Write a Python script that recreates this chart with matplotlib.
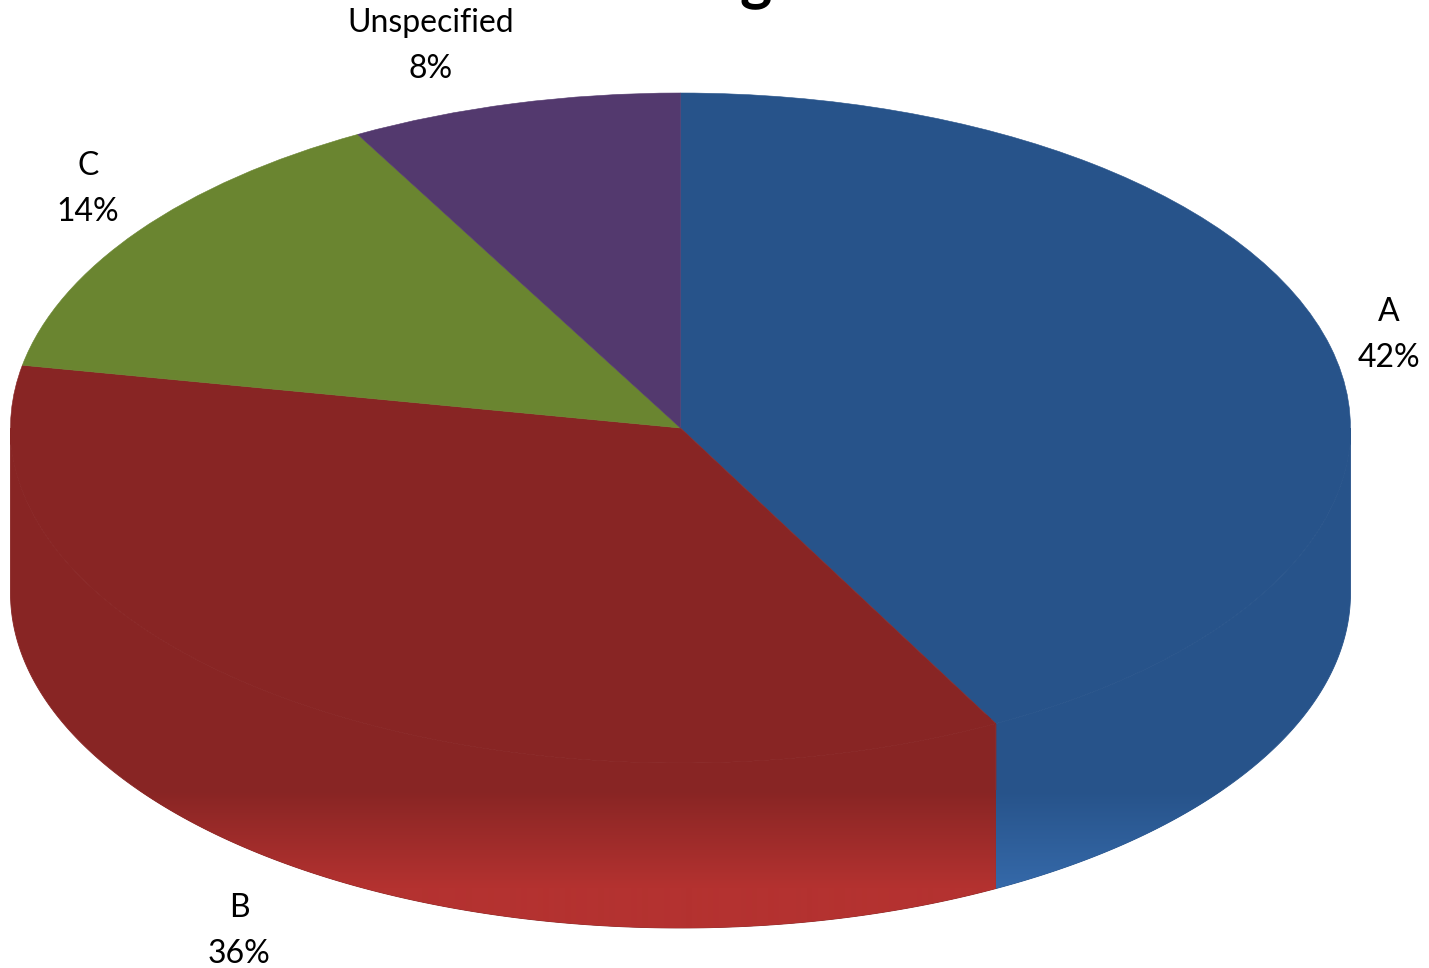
import numpy as np
import matplotlib
matplotlib.use("Agg")
import matplotlib.pyplot as plt
from matplotlib.colors import LinearSegmentedColormap
from matplotlib.patches import Polygon

categories = ["A", "B", "C", "Unspecified"]
values = [42.2, 35.8, 14.0, 8.0]
percent_labels = ["42%", "36%", "14%", "8%"]
title_fragment = "g"

top_colors = ["#27538A", "#882524", "#6A8530", "#53396E"]
bright_colors = ["#3569A9", "#B43230", "#6A8530", "#53396E"]
label_px = [(1389, 335), (239, 931), (88, 189), (431, 46)]

W, H = 1429, 968
CX, CY, RX, RY, DEPTH = 680.5, 428.0, 670.0, 335.0, 165.0


def px_x(x):
    return (x - CX) / RX


def px_y(y):
    return (CY - y) / RY


fig = plt.figure(figsize=(W / 100, H / 100), dpi=100, facecolor="white")
ax = fig.add_axes([0, 0, 1, 1])
wedges, _ = ax.pie(values, startangle=90, counterclock=False, radius=1,
                   colors=top_colors,
                   wedgeprops=dict(linewidth=0, zorder=3))
for w, c in zip(wedges, top_colors):
    w.set_edgecolor(c)
    w.set_linewidth(0.4)

# Side wall: the part of each slice that faces the viewer, shaded downwards
depth = DEPTH / RY
y0, y1 = px_y(930), px_y(790)
ramp_end = px_y(888)
edges = np.cumsum([0] + values) / sum(values) * 360
for i in range(len(values)):
    # clockwise angle from 12 o'clock; the front half runs 90..270
    a = max(edges[i], 90)
    b = min(edges[i + 1], 270)
    if b <= a:
        continue
    t = np.radians(np.linspace(a, b, 200))
    xs, ys = np.sin(t), np.cos(t)
    outline = np.r_[np.c_[xs, ys], np.c_[xs[::-1], ys[::-1] - depth]]
    cmap = LinearSegmentedColormap.from_list("w", [bright_colors[i], top_colors[i]])
    yy = np.linspace(y0, y1, 280)
    grad = np.clip((yy - ramp_end) / (y1 - ramp_end), 0, 1)[:, None]
    # flat colour above the ramp; reaches under the top face so no seam shows
    solid = Polygon(outline, closed=True, facecolor=top_colors[i],
                    edgecolor=top_colors[i], linewidth=0.6, zorder=1)
    ax.add_patch(solid)
    under = Polygon(np.c_[xs, ys * 0.98], closed=True, facecolor=top_colors[i],
                    edgecolor="none", zorder=1)
    ax.add_patch(under)
    im = ax.imshow(grad, cmap=cmap, vmin=0, vmax=1, origin="lower", aspect="auto",
                   extent=(-1.05, 1.05, y0, y1), zorder=2, interpolation="bilinear")
    clip = Polygon(outline, closed=True, transform=ax.transData, facecolor="none", edgecolor="none")
    ax.add_patch(clip)
    im.set_clip_path(clip)

ax.set_aspect("auto")
ax.set_xlim(px_x(0), px_x(W))
ax.set_ylim(px_y(H), px_y(0))
ax.axis("off")

for name, pct, (lx, ly) in zip(categories, percent_labels, label_px):
    ax.text(px_x(lx), px_y(ly), f"{name}\n{pct}", ha="center", va="center",
            fontsize=23, family="Lato", color="black", linespacing=1.66, zorder=5)

# Only the tail of the title's letter falls inside the picture
ax.text(px_x(756), px_y(-3), title_fragment, ha="center", va="baseline",
        fontsize=44, family="Lato", fontweight="bold", color="black", zorder=5, clip_on=False)

fig.savefig("out.png", dpi=100, facecolor="white")
